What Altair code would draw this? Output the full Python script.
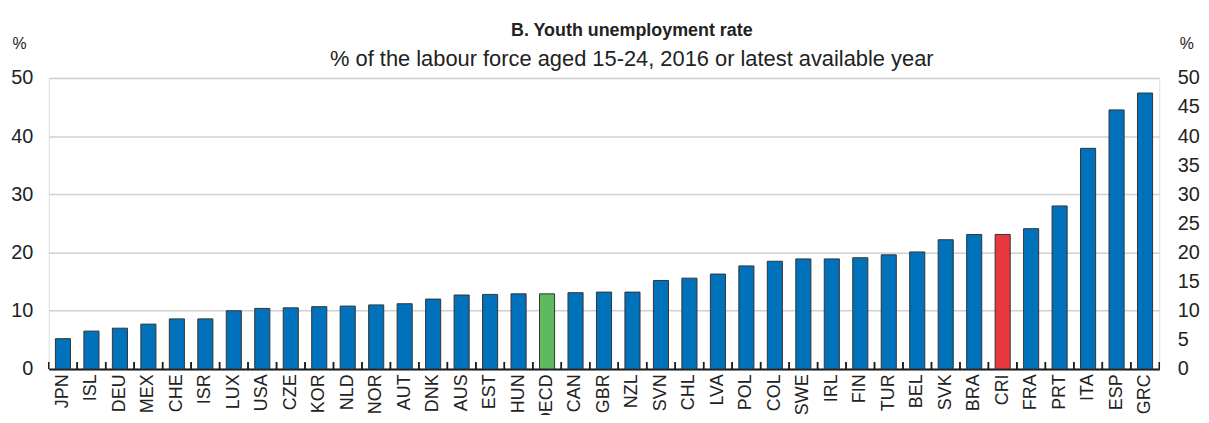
import altair as alt
import pandas as pd

countries = ["JPN", "ISL", "DEU", "MEX", "CHE", "ISR", "LUX", "USA", "CZE", "KOR",
             "NLD", "NOR", "AUT", "DNK", "AUS", "EST", "HUN", "OECD", "CAN", "GBR",
             "NZL", "SVN", "CHL", "LVA", "POL", "COL", "SWE", "IRL", "FIN", "TUR",
             "BEL", "SVK", "BRA", "CRI", "FRA", "PRT", "ITA", "ESP", "GRC"]
values = [5.2, 6.5, 7.0, 7.7, 8.6, 8.6, 10.0, 10.4, 10.5, 10.7,
          10.8, 11.0, 11.2, 12.0, 12.7, 12.8, 12.9, 12.9, 13.1, 13.2,
          13.2, 15.2, 15.6, 16.3, 17.7, 18.5, 18.9, 18.9, 19.1, 19.6,
          20.1, 22.2, 23.1, 23.1, 24.1, 28.0, 37.9, 44.5, 47.4]
groups = ["Country"] * len(countries)
groups[countries.index("OECD")] = "OECD"
groups[countries.index("CRI")] = "CRI"

left_ticks = [0, 10, 20, 30, 40, 50]
right_ticks = [0, 5, 10, 15, 20, 25, 30, 35, 40, 45, 50]

df = pd.DataFrame({"country": countries, "value": values, "group": groups})

FONT = "Liberation Sans, Arial, Helvetica, sans-serif"
TXT = "#222222"
W, H = 1118, 293

xscale = alt.Scale(domain=countries, paddingInner=0.47, paddingOuter=0.235)
yscale = alt.Scale(domain=[0, 50], nice=False)

xaxis = alt.Axis(title=None, labelAngle=270, labelFontSize=18, labelFont=FONT,
                 labelColor=TXT, ticks=False, domain=True, domainColor="#1a1a1a",
                 domainWidth=2, labelPadding=5, labelBaseline="middle",
                 labelAlign="right", orient="bottom")

hidden_axis = alt.Axis(labels=False, ticks=False, domain=False, grid=False, title=None)

base = alt.Chart(df)

bars = base.mark_bar(stroke="#333333", strokeWidth=1).encode(
    x=alt.X("country:N", scale=xscale, sort=countries, axis=xaxis),
    y=alt.Y("value:Q", scale=yscale,
            axis=alt.Axis(values=left_ticks, title="%", titleAngle=0, titleX=-37, titleY=-27,
                          titleAlign="left", titleBaseline="bottom", titleFont=FONT,
                          titleFontSize=16, titleFontWeight="normal", titleColor=TXT,
                          labelFont=FONT, labelFontSize=20, labelColor=TXT, labelPadding=16,
                          ticks=False, domain=False, grid=True, gridColor="#d0d0d0",
                          gridWidth=1.5, orient="left")),
    color=alt.Color("group:N", scale=alt.Scale(domain=["Country", "OECD", "CRI"],
                                              range=["#0072BC", "#5DBB5D", "#E8373E"]),
                    legend=None),
)

right_axis = base.mark_bar(opacity=0).encode(
    x=alt.X("country:N", scale=xscale, sort=countries, axis=None),
    y=alt.Y("value:Q", scale=yscale,
            axis=alt.Axis(values=right_ticks, title="%", titleAngle=0, titleX=20, titleY=-27,
                          titleAlign="left", titleBaseline="bottom", titleFont=FONT,
                          titleFontSize=16, titleFontWeight="normal", titleColor=TXT,
                          labelFont=FONT, labelFontSize=20, labelColor=TXT, labelPadding=18,
                          ticks=False, domain=False, grid=False, orient="right")),
)

ticks_left = base.mark_rule(color="#1a1a1a", strokeWidth=1.5, xOffset=-6.7).encode(
    x=alt.X("country:N", scale=xscale, sort=countries, bandPosition=0, axis=None),
    y=alt.YDatum(0, axis=hidden_axis),
    y2=alt.Y2Datum(1.2),
)
ticks_right = base.mark_rule(color="#1a1a1a", strokeWidth=1.5, xOffset=6.7).encode(
    x=alt.X("country:N", scale=xscale, sort=countries, bandPosition=1, axis=None),
    y=alt.YDatum(0, axis=hidden_axis),
    y2=alt.Y2Datum(1.2),
)

chart = alt.layer(bars, right_axis, ticks_left, ticks_right).resolve_axis(
    x="independent", y="independent"
).properties(
    width=W,
    height=H,
    autosize=alt.AutoSizeParams(type="none"),
    padding={"left": 41, "top": 69, "right": 42, "bottom": 45},
    title=alt.TitleParams(
        text="B. Youth unemployment rate",
        subtitle="% of the labour force aged 15-24, 2016 or latest available year",
        font=FONT, fontSize=18, fontWeight="bold", color=TXT,
        subtitleFont=FONT, subtitleFontSize=22, subtitleColor=TXT,
        subtitlePadding=9, anchor="middle", dx=28, dy=41, offset=6,
    ),
).configure_view(stroke=None).configure(background="white")

chart.save("out.html", embed_options={"renderer": "svg", "actions": False})
